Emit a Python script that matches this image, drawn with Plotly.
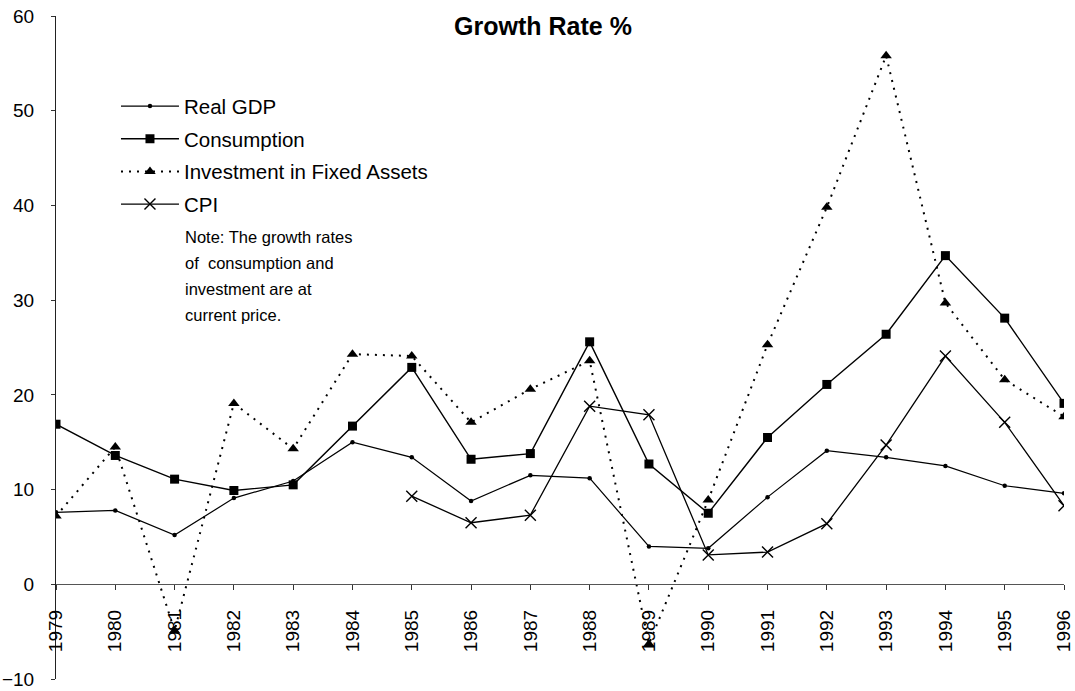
import plotly.graph_objects as go

years = list(range(1979, 1997))
real_gdp = [7.6, 7.8, 5.2, 9.1, 10.9, 15.0, 13.4, 8.8, 11.5, 11.2, 4.0, 3.8, 9.2, 14.1, 13.4, 12.5, 10.4, 9.6]
consumption = [16.9, 13.6, 11.1, 9.9, 10.5, 16.7, 22.9, 13.2, 13.8, 25.6, 12.7, 7.5, 15.5, 21.1, 26.4, 34.7, 28.1, 19.1]
investment = [7.2, 14.5, -4.9, 19.1, 14.3, 24.3, 24.1, 17.1, 20.6, 23.6, -6.3, 8.9, 25.3, 39.8, 55.8, 29.7, 21.6, 17.7]
cpi = [None, None, None, None, None, None, 9.3, 6.5, 7.3, 18.8, 17.9, 3.1, 3.4, 6.4, 14.7, 24.1, 17.1, 8.3]

note_lines = ["Note: The growth rates", "of  consumption and", "investment are at", "current price."]

FONT = "Liberation Sans, Arial, Helvetica, sans-serif"

W, H = 1075, 691

fig = go.Figure()
fig.add_trace(go.Scatter(x=years, y=real_gdp, name="Real GDP", mode="lines+markers", legendgroup="a",
                         line=dict(color="black", width=1.2),
                         marker=dict(symbol="circle", size=4.5, color="black")))
fig.add_trace(go.Scatter(x=years, y=consumption, name="Consumption", mode="lines+markers", legendgroup="b",
                         line=dict(color="black", width=1.4),
                         marker=dict(symbol="square", size=9, color="black")))
fig.add_trace(go.Scatter(x=years, y=investment, name="Investment in Fixed Assets", mode="lines+markers",
                         legendgroup="c",
                         line=dict(color="black", width=2, dash="2px,6px"),
                         marker=dict(symbol="triangle-up", size=10, color="black")))
fig.add_trace(go.Scatter(x=years, y=cpi, name="CPI", mode="lines+markers", legendgroup="d",
                         line=dict(color="black", width=1.3),
                         marker=dict(symbol="x-thin", size=11, color="black",
                                     line=dict(color="black", width=1.4))))

for i, t in enumerate(note_lines):
    fig.add_annotation(text=t, xref="paper", yref="paper", x=0.126, y=0.6667 - i * 0.0392,
                       xanchor="left", yanchor="middle", showarrow=False,
                       font=dict(family=FONT, size=16.5, color="black"))

fig.update_layout(
    width=W, height=H,
    margin=dict(l=56, r=11, t=16, b=12),
    paper_bgcolor="white", plot_bgcolor="white",
    font=dict(family=FONT, color="black"),
    hovermode=False,
    title=dict(text="<b>Growth Rate %</b>", x=543 / W, xref="container", xanchor="center",
               y=1 - 26 / H, yref="container", yanchor="middle",
               font=dict(family=FONT, size=25, color="black")),
    showlegend=True,
    legend=dict(x=0.0595, y=0.894, xanchor="left", yanchor="top", bgcolor="rgba(0,0,0,0)",
                font=dict(family=FONT, size=20.5, color="black"), itemwidth=58, tracegroupgap=3),
    xaxis=dict(range=[1979, 1996], tickmode="array", tickvals=years, ticktext=[str(y) for y in years],
               tickangle=-90, anchor="free", position=10 / 70, showline=True, linecolor="#555",
               linewidth=1, ticks="outside", ticklen=5, tickcolor="#333", showgrid=False,
               zeroline=False, automargin=False, ticklabelstandoff=12, ticklabeloverflow="allow",
               tickfont=dict(family=FONT, size=19, color="black")),
    yaxis=dict(range=[-10, 60], dtick=10, showline=True, linecolor="#222", linewidth=1,
               ticks="outside", ticklen=4, tickcolor="#333", showgrid=False, zeroline=False,
               automargin=False, ticklabelstandoff=13, ticklabeloverflow="allow",
               tickfont=dict(family=FONT, size=19, color="black")),
)

# Remove the browser's default 8px page margin so the figure fills the window exactly.
fig.write_html("out.html", config={"displayModeBar": False},
               post_script="document.body.style.margin='0px';")
